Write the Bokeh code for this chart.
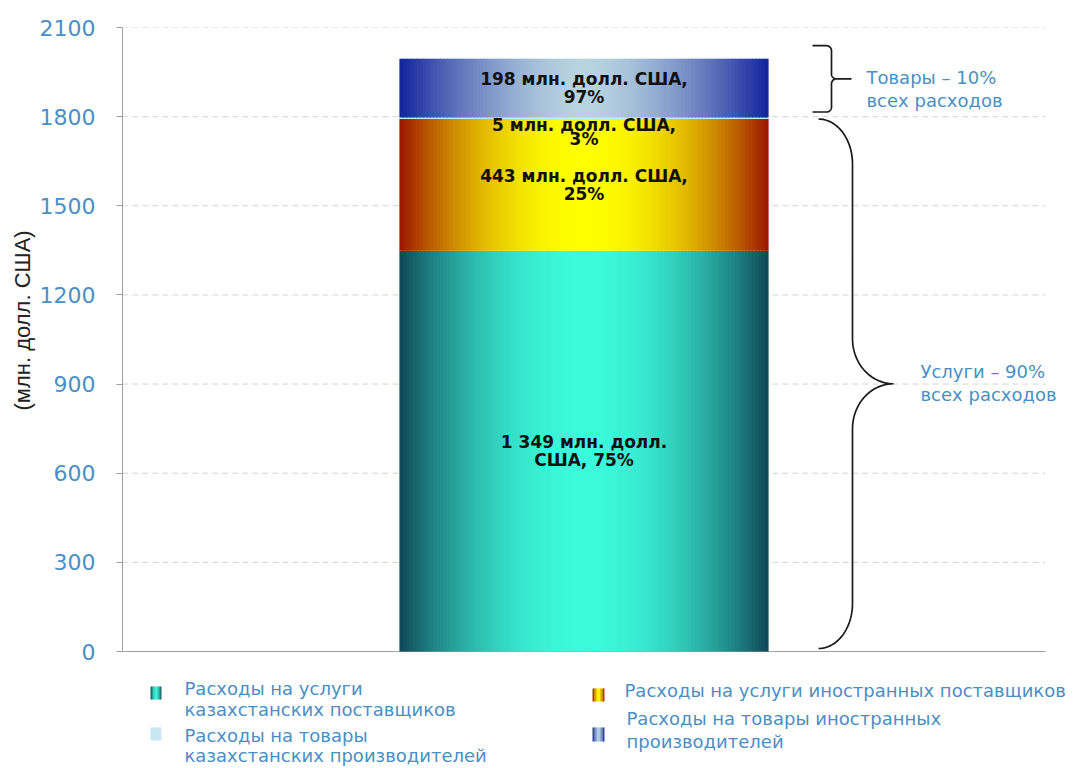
import numpy as np
from bokeh.plotting import figure
from bokeh.models import Range1d, FixedTicker, Label, ColumnDataSource, Title
from bokeh.core.properties import value
from bokeh.embed import file_html
from bokeh.resources import INLINE

# ---------------- data ----------------
# stacked from bottom to top
segment_names = [
    "Расходы на услуги\nказахстанских поставщиков",
    "Расходы на услуги иностранных поставщиков",
    "Расходы на товары\nказахстанских производителей",
    "Расходы на товары иностранных\nпроизводителей",
]
segment_values = [1349, 443, 5, 198]
segment_labels = [
    "1 349 млн. долл.\nСША, 75%",
    "443 млн. долл. США,\n25%",
    "5 млн. долл. США,\n3%",
    "198 млн. долл. США,\n97%",
]
group_names = ["Услуги", "Товары"]
group_shares = [90, 10]
group_note = "всех  расходов"
y_ticks = [0, 300, 600, 900, 1200, 1500, 1800, 2100]
y_title = "(млн. долл. США)"

# ---------------- styles ----------------
seg_edge = ["#0f4757", "#9c1400", "#c8e7f4", "#12229c"]
seg_center = ["#3cfadc", "#ffff00", "#c8e7f4", "#b8d4e0"]
seg_power = [2.0, 2.0, 2.0, 1.6]
BLUE = "#4a8fc4"
AXIS_GRAY = "#a0a0a0"

W, H = 1074, 768
FRAME_LEFT, PLOT_RIGHT = 122, 1045
ZERO_PX, TOP_PX = 651, 27
PLOT_W = PLOT_RIGHT - FRAME_LEFT
Y_MAX = y_ticks[-1]
dx = 1.0 / PLOT_W
dy = Y_MAX / (ZERO_PX - TOP_PX)
X = lambda px: (px - FRAME_LEFT) * dx
Y = lambda py: (ZERO_PX - py) * dy
PY = lambda y: ZERO_PX - y / dy


def hex2rgb(c):
    c = c.lstrip("#")
    return [int(c[i:i + 2], 16) for i in (0, 2, 4)]


def mix(c1, c2, f):
    a, b = hex2rgb(c1), hex2rgb(c2)
    return "#%02x%02x%02x" % tuple(int(round(a[i] + (b[i] - a[i]) * f)) for i in range(3))


def gradient_strips(x0, x1, bottom, top, center, edge, n, power=2.0):
    w = (x1 - x0) / n
    lefts, rights, cols = [], [], []
    for i in range(n):
        u = (i + 0.5) / n
        t = abs(u - 0.5) * 2
        lefts.append(x0 + i * w)
        rights.append(min(x0 + (i + 1.4) * w, x1))
        cols.append(mix(center, edge, t ** power))
    return dict(left=lefts, right=rights, bottom=[bottom] * n, top=[top] * n, color=cols)


p = figure(width=W, height=H, x_range=Range1d(0, X(W)), y_range=Range1d(Y(H), Y_MAX),
           output_backend="svg", toolbar_location=None, x_axis_location=None,
           min_border_left=FRAME_LEFT, min_border_right=0,
           min_border_top=TOP_PX, min_border_bottom=0)
p.outline_line_color = None
p.background_fill_color = "white"
p.xgrid.visible = False
p.ygrid.visible = False

ax = p.yaxis[0]
ax.ticker = FixedTicker(ticks=y_ticks)
ax.bounds = (0, Y_MAX)
ax.axis_line_color = AXIS_GRAY
ax.major_tick_line_color = AXIS_GRAY
ax.major_tick_out = 6
ax.major_tick_in = 0
ax.minor_tick_line_color = None
ax.major_label_text_font = "DejaVu Sans"
ax.major_label_text_font_size = "22px"
ax.major_label_text_color = BLUE
ax.major_label_standoff = 21

# vertical axis title, bottom end of text near y=410 px
p.add_layout(Title(text=y_title, align="left", offset=H - 410,
                   text_font="Liberation Sans", text_font_size="22px", text_font_style="normal",
                   text_color="#222222", standoff=4), "left")

# horizontal dashed grid and baseline across the plotting width
p.segment(x0=[0] * (len(y_ticks) - 1), x1=[1] * (len(y_ticks) - 1), y0=y_ticks[1:], y1=y_ticks[1:],
          line_color="#d4d4d4", line_dash="6 4", line_width=1, level="underlay")
p.segment(x0=[0], x1=[1], y0=[0], y1=[0], line_color=AXIS_GRAY, line_width=1)

# ---------------- stacked bar ----------------
bar_center, bar_width = 0.5, 0.4
bx0, bx1 = bar_center - bar_width / 2, bar_center + bar_width / 2
cum = np.concatenate([[0], np.cumsum(segment_values)])
for k, v in enumerate(segment_values):
    src = ColumnDataSource(gradient_strips(bx0, bx1, cum[k], cum[k + 1], seg_center[k], seg_edge[k], 110,
                                           seg_power[k]))
    p.quad(left="left", right="right", bottom="bottom", top="top", fill_color="color",
           line_color=None, source=src)

mids = [(cum[k] + cum[k + 1]) / 2 for k in range(len(segment_values))]
big = [k for k in range(len(segment_values)) if segment_values[k] >= 50]
small = [k for k in range(len(segment_values)) if segment_values[k] < 50]
p.text(x=[bar_center] * len(big), y=[mids[k] for k in big], text=[segment_labels[k] for k in big],
       text_font=value("DejaVu Sans"), text_font_style="bold", text_font_size="17px",
       text_align="center", text_baseline="middle", text_line_height=0.88, text_color="#111111")
p.text(x=[bar_center] * len(small), y=[mids[k] - 14 * dy for k in small], text=[segment_labels[k] for k in small],
       text_font=value("DejaVu Sans"), text_font_style="bold", text_font_size="17px",
       text_align="center", text_baseline="middle", text_line_height=0.72, text_color="#111111")


# ---------------- braces ----------------
def brace(x_end, x_spine, x_tip, y_top, y_bot, r_end, r_tip):
    rex, rey = r_end
    rtx, rty = r_tip
    ymid = (y_top + y_bot) / 2
    t = np.linspace(0, np.pi / 2, 24)
    pts = [(x_end, y_top)]
    pts += list(zip(x_spine - rex + rex * np.sin(t), y_top + rey - rey * np.cos(t)))
    pts += list(zip(x_spine + rtx - rtx * np.cos(t), ymid - rty + rty * np.sin(t)))
    pts += [(x_tip, ymid)]
    lower = [(x, y_top + y_bot - y) for (x, y) in reversed(pts)]
    allp = pts + lower
    return [X(a) for a, _ in allp], [Y(b) for _, b in allp], ymid


services_total = sum(segment_values[:2])
total = sum(segment_values)
bxs, bys, s_tip = brace(818, 852, 893, PY(services_total), PY(0) - 3, (34, 45), (41, 45))
p.line(bxs, bys, line_color="#1a1a1a", line_width=1.7)
gxs, gys, g_tip = brace(812, 831, 851, PY(total) - 13, PY(services_total) - 7, (5, 5), (5, 5))
p.line(gxs, gys, line_color="#1a1a1a", line_width=1.7)

for (name, share, tx, ys) in [(group_names[0], group_shares[0], 920, (s_tip - 12, s_tip + 11)),
                              (group_names[1], group_shares[1], 866, (g_tip - 1, g_tip + 22))]:
    for txt, yy in zip([f"{name} – {share}%", group_note], ys):
        p.add_layout(Label(x=X(tx), y=Y(yy), text=txt, text_font="DejaVu Sans", text_font_size="18px",
                           text_color=BLUE, text_align="left", text_baseline="middle"))

# ---------------- legend ----------------
legend_pos = {  # segment index -> (swatch x0, x1, y_top, y_bot, text x, first line y, line step)
    0: (150, 161, 686, 699, 184, 688, 21),
    2: (150, 161, 727, 740, 184, 735, 20),
    1: (592, 604, 688, 701, 624, 690, 21),
    3: (592, 604, 727, 741, 626, 718, 23),
}
for k, (sx0, sx1, sy0, sy1, tx, ty, step) in legend_pos.items():
    src = ColumnDataSource(gradient_strips(X(sx0), X(sx1), Y(sy1), Y(sy0), seg_center[k], seg_edge[k], 8, 1.5))
    p.quad(left="left", right="right", bottom="bottom", top="top", fill_color="color", line_color=None, source=src)
    for j, line in enumerate(segment_names[k].split("\n")):
        p.add_layout(Label(x=X(tx), y=Y(ty + j * step), text=line, text_font="DejaVu Sans", text_font_size="18px",
                           text_color=BLUE, text_align="left", text_baseline="middle"))

open("out.html", "w").write(file_html(p, INLINE))
